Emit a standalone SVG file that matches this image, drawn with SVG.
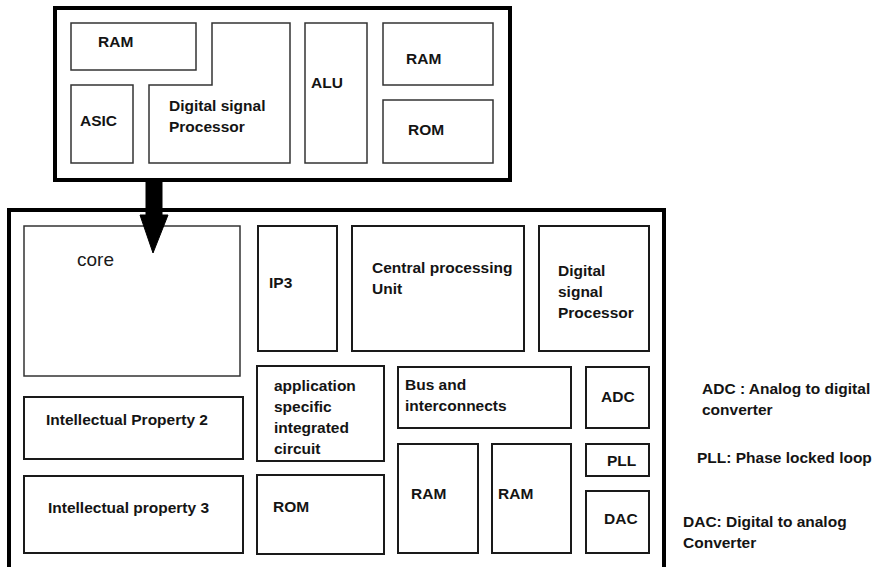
<svg xmlns="http://www.w3.org/2000/svg" width="873" height="567" viewBox="0 0 873 567">
  <style>
    .frame { fill: #ffffff; stroke: #000000; stroke-width: 4; }
    .box { fill: #ffffff; stroke: #1a1a1a; stroke-width: 2; }
    .thin { fill: #ffffff; stroke: #333333; stroke-width: 1.5; }
    .lbl { font-family: "Liberation Sans", Arial, sans-serif; font-weight: bold; font-size: 15.5px; fill: #141414; }
    .reg { font-family: "Liberation Sans", Arial, sans-serif; font-size: 19px; fill: #1a1a1a; }
  </style>
  <rect width="873" height="567" fill="#ffffff"/>

  <!-- upper chip: DSP subsystem -->
  <g id="dsp-chip">
    <rect class="frame" x="55" y="8" width="455" height="172"/>
    <g id="top-ram">
      <rect class="thin" x="71" y="23" width="125" height="47"/>
      <text class="lbl" x="98" y="47">RAM</text>
    </g>
    <g id="top-asic">
      <rect class="thin" x="71" y="85" width="62" height="78"/>
      <text class="lbl" x="80" y="126">ASIC</text>
    </g>
    <g id="top-dsp">
      <path class="thin" d="M212,23 H290 V163 H149 V85 H212 Z"/>
      <text class="lbl" x="169" y="111">Digital signal</text>
      <text class="lbl" x="169" y="132">Processor</text>
    </g>
    <g id="top-alu">
      <rect class="thin" x="305" y="23" width="62" height="140"/>
      <text class="lbl" x="311" y="88">ALU</text>
    </g>
    <g id="top-ram2">
      <rect class="thin" x="383" y="23" width="110" height="62"/>
      <text class="lbl" x="406" y="64">RAM</text>
    </g>
    <g id="top-rom">
      <rect class="thin" x="383" y="100" width="110" height="63"/>
      <text class="lbl" x="408" y="135">ROM</text>
    </g>
  </g>

  <!-- lower chip: system on chip -->
  <g id="soc-chip">
    <rect class="frame" x="9" y="210" width="655" height="362" stroke-width="3"/>
    <g id="core">
      <rect class="thin" x="24" y="226" width="216" height="150"/>
      <text class="reg" x="77" y="266">core</text>
    </g>
    <g id="ip3">
      <rect class="box" x="258" y="226" width="79" height="125"/>
      <text class="lbl" x="269" y="288">IP3</text>
    </g>
    <g id="cpu">
      <rect class="box" x="352" y="226" width="172" height="125"/>
      <text class="lbl" x="372" y="273">Central processing</text>
      <text class="lbl" x="372" y="294">Unit</text>
    </g>
    <g id="dsp">
      <rect class="box" x="539" y="226" width="110" height="125"/>
      <text class="lbl" x="558" y="276">Digital</text>
      <text class="lbl" x="558" y="297">signal</text>
      <text class="lbl" x="558" y="318">Processor</text>
    </g>
    <g id="ip2">
      <rect class="box" x="24" y="397" width="219" height="62"/>
      <text class="lbl" x="46" y="425">Intellectual Property 2</text>
    </g>
    <g id="ip3-block">
      <rect class="box" x="24" y="476" width="219" height="77"/>
      <text class="lbl" x="48" y="513">Intellectual property 3</text>
    </g>
    <g id="asic">
      <rect class="box" x="257" y="366" width="127" height="95"/>
      <text class="lbl" x="274" y="391">application</text>
      <text class="lbl" x="274" y="412">specific</text>
      <text class="lbl" x="274" y="433">integrated</text>
      <text class="lbl" x="274" y="454">circuit</text>
    </g>
    <g id="rom">
      <rect class="box" x="257" y="475" width="127" height="79"/>
      <text class="lbl" x="273" y="512">ROM</text>
    </g>
    <g id="bus">
      <rect class="box" x="398" y="367" width="173" height="61"/>
      <text class="lbl" x="405" y="390">Bus and</text>
      <text class="lbl" x="405" y="411">interconnects</text>
    </g>
    <g id="ram1">
      <rect class="box" x="398" y="444" width="80" height="109"/>
      <text class="lbl" x="411" y="499">RAM</text>
    </g>
    <g id="ram2">
      <rect class="box" x="492" y="444" width="79" height="109"/>
      <text class="lbl" x="498" y="499">RAM</text>
    </g>
    <g id="adc">
      <rect class="box" x="586" y="367" width="63" height="61"/>
      <text class="lbl" x="601" y="402">ADC</text>
    </g>
    <g id="pll">
      <rect class="box" x="586" y="444" width="63" height="32"/>
      <text class="lbl" x="607" y="466">PLL</text>
    </g>
    <g id="dac">
      <rect class="box" x="586" y="491" width="63" height="62"/>
      <text class="lbl" x="604" y="524">DAC</text>
    </g>
  </g>

  <!-- connector: upper chip feeds the core -->
  <g id="connectors">
    <path d="M146,180 H162 V215 H168 L153,253 L140,215 H146 Z" fill="#000000" stroke="#000000" stroke-width="1" stroke-linejoin="round"/>
  </g>

  <!-- abbreviations -->
  <g id="legend">
    <text class="lbl" x="702" y="394">ADC : Analog to digital</text>
    <text class="lbl" x="702" y="415">converter</text>
    <text class="lbl" x="697" y="463">PLL: Phase locked loop</text>
    <text class="lbl" x="683" y="527">DAC: Digital to analog</text>
    <text class="lbl" x="683" y="548">Converter</text>
  </g>
</svg>
